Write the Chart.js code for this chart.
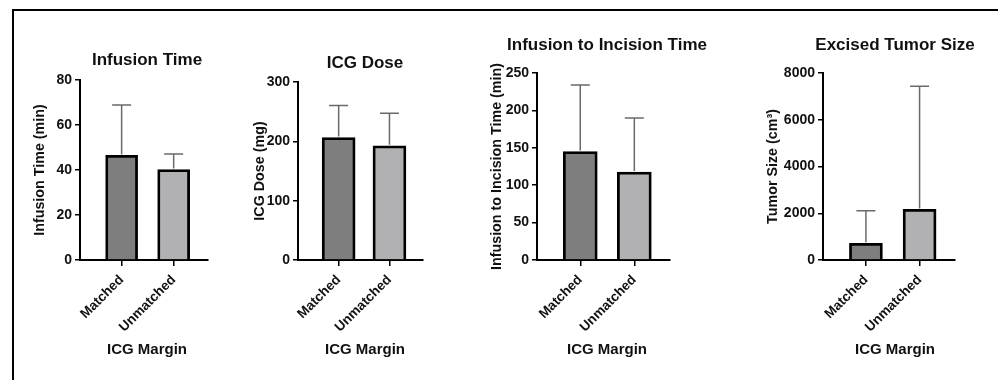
<!DOCTYPE html>
<html>
<head>
<meta charset="utf-8">
<script src="https://cdn.jsdelivr.net/npm/chart.js@4.4.1/dist/chart.umd.min.js"></script>
<style>
  html, body { margin: 0; padding: 0; background: #fff; overflow: hidden; width: 998px; height: 380px; }
  #frame { position: absolute; left: 12px; top: 9px; width: 1000px; height: 400px;
           border-left: 2px solid #000; border-top: 2px solid #000; }
  canvas { position: absolute; top: 0; }
</style>
</head>
<body>
<div id="frame"></div>
<canvas id="c1"></canvas>
<canvas id="c2"></canvas>
<canvas id="c3"></canvas>
<canvas id="c4"></canvas>
<script>
// data (mean and upper SD)
const categories = ['Matched', 'Unmatched'];
const infusionTime = [46.5, 40.2];
const infusionTimeSd = [22.4, 6.9];
const icgDose = [206.5, 192.5];
const icgDoseSd = [54, 55];
const incisionTime = [145, 117.5];
const incisionTimeSd = [89, 72.5];
const tumorSize = [713, 2165];
const tumorSizeSd = [1393, 5267];

const titles = ['Infusion Time', 'ICG Dose', 'Infusion to Incision Time', 'Excised Tumor Size'];
const yTitles = ['Infusion Time (min)', 'ICG Dose (mg)', 'Infusion to Incision Time (min)', 'Tumor Size (cm\u00b3)'];
const yMax = [80, 300, 250, 8000];
const yStep = [20, 100, 50, 2000];
const xTitle = 'ICG Margin';

const FONT = "'Liberation Sans', Arial, Helvetica, sans-serif";
const barColors = ['#7e7e7e', '#b1b1b4'];

// where each panel sits on the page
const panels = [
  { id: 'c1', means: infusionTime, sd: infusionTimeSd, axisL: 80, axisR: 208, top: 80, titleCX: 147, titleCY: 60, yTitleCX: 40, bar: 32 },
  { id: 'c2', means: icgDose, sd: icgDoseSd, axisL: 298, axisR: 423, top: 82, titleCX: 365, titleCY: 63, yTitleCX: 260, bar: 33 },
  { id: 'c3', means: incisionTime, sd: incisionTimeSd, axisL: 537, axisR: 670, top: 73, titleCX: 607, titleCY: 45, yTitleCX: 497, bar: 34 },
  { id: 'c4', means: tumorSize, sd: tumorSizeSd, axisL: 823, axisR: 955, top: 73, titleCX: 895, titleCY: 45, yTitleCX: 773, bar: 33 }
];

const Y_W = 70;      // fixed y axis box width
const H = 380;
const BOTTOM = 260;  // pixel row of the x axis
const TITLE_SIZE = 17;
const XT_SIZE = 15;
const XT_CY = 350;   // centre row of "ICG Margin"

// one-sided error bars
const errorBars = {
  id: 'errorBars',
  afterDatasetsDraw(chart) {
    const ctx = chart.ctx;
    const y = chart.scales.y;
    const ds = chart.data.datasets[0];
    const meta = chart.getDatasetMeta(0);
    ctx.save();
    ctx.strokeStyle = '#6a6a6a';
    ctx.lineWidth = 1.5;
    meta.data.forEach((bar, i) => {
      const yTop = y.getPixelForValue(ds.data[i].y + ds.sd[i]);
      ctx.beginPath();
      ctx.moveTo(bar.x, bar.y - 1);
      ctx.lineTo(bar.x, yTop);
      ctx.moveTo(bar.x - 9.5, yTop);
      ctx.lineTo(bar.x + 9.5, yTop);
      ctx.stroke();
    });
    ctx.restore();
  }
};

panels.forEach((p, k) => {
  const left = p.axisL - Y_W;
  const width = Math.round(2 * (p.titleCX - left));
  const rightW = left + width - p.axisR;
  const canvas = document.getElementById(p.id);
  canvas.width = width;
  canvas.height = H;
  canvas.style.left = left + 'px';

  const tH = TITLE_SIZE * 1.2;
  const xtH = XT_SIZE * 1.2;
  const xtPadBottom = H - XT_CY - xtH / 2;
  const xAxisH = H - BOTTOM - (xtH + xtPadBottom);

  new Chart(canvas.getContext('2d'), {
    type: 'bar',
    data: {
      datasets: [{
        data: p.means.map((v, i) => ({ x: i, y: v })),
        sd: p.sd,
        backgroundColor: barColors,
        borderColor: '#000',
        borderWidth: 2.8,
        barThickness: p.bar
      }]
    },
    options: {
      responsive: false,
      animation: false,
      layout: { padding: 0 },
      plugins: {
        legend: { display: false },
        tooltip: { enabled: false },
        title: {
          display: true,
          text: titles[k],
          color: '#111',
          font: { family: FONT, size: TITLE_SIZE, weight: 'bold' },
          padding: { top: p.titleCY - tH / 2, bottom: p.top - p.titleCY - tH / 2 }
        },
        subtitle: {
          display: true,
          position: 'bottom',
          text: xTitle,
          color: '#111',
          font: { family: FONT, size: XT_SIZE, weight: 'bold' },
          padding: { top: 0, bottom: xtPadBottom }
        }
      },
      scales: {
        x: {
          type: 'linear',
          offset: false,
          min: -0.8,
          max: 1.66,
          afterBuildTicks: s => { s.ticks = categories.map((c, i) => ({ value: i })); },
          afterFit: s => { s.height = xAxisH; },
          border: { display: true, color: '#000', width: 2 },
          grid: { offset: false, drawOnChartArea: false, drawTicks: true, tickLength: 6, color: '#000', lineWidth: 1.5 },
          ticks: {
            autoSkip: false,
            minRotation: 45,
            maxRotation: 45,
            padding: 6,
            color: '#111',
            font: { family: FONT, size: 13.5, weight: 'bold' },
            callback: v => categories[Math.round(v)]
          }
        },
        y: {
          min: 0,
          max: yMax[k],
          afterFit: s => { s.width = Y_W; },
          border: { display: true, color: '#000', width: 2 },
          grid: { drawOnChartArea: false, drawTicks: true, tickLength: 5, color: '#000', lineWidth: 1.5 },
          ticks: {
            stepSize: yStep[k],
            padding: 3,
            color: '#111',
            font: { family: FONT, size: 14, weight: 'bold' },
            callback: v => String(v)
          },
          title: {
            display: true,
            text: yTitles[k],
            color: '#111',
            font: { family: FONT, size: 14.3, weight: 'bold' },
            padding: { top: p.yTitleCX - left - 8.6, bottom: 0 }
          }
        },
        // empty spacer on the right so the top title is centred on the canvas
        spacer: {
          type: 'linear',
          position: 'right',
          display: true,
          afterFit: s => { s.width = rightW; },
          grid: { display: false },
          border: { display: false },
          ticks: { display: false }
        }
      }
    },
    plugins: [errorBars]
  });
});
</script>
</body>
</html>
